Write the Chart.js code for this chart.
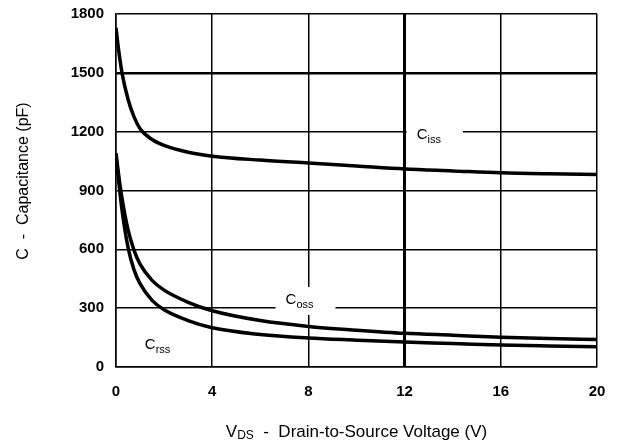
<!DOCTYPE html>
<html>
<head>
<meta charset="utf-8">
<script src="https://cdn.jsdelivr.net/npm/chart.js@4/dist/chart.umd.min.js"></script>
<style>
  html, body { margin: 0; padding: 0; background: #fff; }
  canvas { display: block; }
</style>
</head>
<body>
<canvas id="chart" width="622" height="443"></canvas>
<script>
// ===== 数据=====
const vds  = [0, 0.1, 0.25, 0.5, 0.75, 1, 1.5, 2, 3, 4, 6, 8, 10, 12, 14, 16, 18, 20];
const ciss = [1730, 1625, 1500, 1365, 1275, 1215, 1160, 1130, 1095, 1075, 1055, 1040, 1025, 1010, 1000, 990, 985, 982];
const coss = [1090, 990, 860, 700, 595, 525, 442, 392, 330, 287, 237, 207, 188, 172, 162, 152, 145, 140];
const crss = [1080, 960, 800, 610, 495, 425, 340, 292, 237, 200, 166, 148, 137, 127, 120, 112, 107, 103];
const xTicks = [0, 4, 8, 12, 16, 20];
const yTicks = [0, 300, 600, 900, 1200, 1500, 1800];

// 曲线标签：主字、下标、位置（数据坐标）
const curveLabels = [
  { main: 'C', sub: 'iss', x: 12.5, y: 1183, box: true },
  { main: 'C', sub: 'oss', x: 7.05, y: 342, box: true },
  { main: 'C', sub: 'rss', x: 1.2,  y: 112, box: false }
];

const FONT = '"Liberation Sans", Arial, sans-serif';

function pts(ys) {
  return vds.map((x, i) => ({ x: x, y: ys[i] }));
}

// ===== 画曲线标签和坐标轴标题 =====
const labelPlugin = {
  id: 'labels',
  afterDatasetsDraw(chart) {
    const c = chart.ctx;
    const xs = chart.scales.x, ys = chart.scales.y;
    c.save();
    c.textBaseline = 'middle';
    c.textAlign = 'left';
    for (const l of curveLabels) {
      const px = xs.getPixelForValue(l.x);
      const py = ys.getPixelForValue(l.y);
      c.font = '15px ' + FONT;
      const w1 = c.measureText(l.main).width;
      c.font = '11px ' + FONT;
      const w2 = c.measureText(l.sub).width;
      if (l.box) {
        c.fillStyle = '#fff';
        c.fillRect(px - 10, py - 13, w1 + w2 + 32, 28);
      }
      c.fillStyle = '#000';
      c.font = '15px ' + FONT;
      c.fillText(l.main, px, py);
      c.font = '11px ' + FONT;
      c.fillText(l.sub, px + w1, py + 5);
    }
    c.restore();
  },
  afterDraw(chart) {
    const c = chart.ctx;
    const a = chart.chartArea;
    c.save();
    c.fillStyle = '#000';
    c.textBaseline = 'middle';
    // x 轴标题
    c.font = '17px ' + FONT;
    const t1 = 'V', t3 = '  -  Drain-to-Source Voltage (V)';
    const w1 = c.measureText(t1).width;
    const w3 = c.measureText(t3).width;
    c.font = '12px ' + FONT;
    const w2 = c.measureText('DS').width;
    let x0 = (a.left + a.right) / 2 - (w1 + w2 + w3) / 2;
    const yT = 432;
    c.textAlign = 'left';
    c.font = '17px ' + FONT;
    c.fillText(t1, x0, yT);
    c.font = '12px ' + FONT;
    c.fillText('DS', x0 + w1, yT + 4);
    c.font = '17px ' + FONT;
    c.fillText(t3, x0 + w1 + w2, yT);
    // y 轴标题
    c.translate(24, 181);
    c.rotate(-Math.PI / 2);
    c.textAlign = 'center';
    c.font = '16px ' + FONT;
    c.fillText('C  -  Capacitance (pF)', 0, 0);
    c.restore();
  }
};

const lineStyle = {
  borderColor: '#000',
  borderWidth: 3.5,
  pointRadius: 0,
  fill: false,
  cubicInterpolationMode: 'monotone'
};

new Chart(document.getElementById('chart'), {
  type: 'line',
  data: {
    datasets: [
      Object.assign({ label: 'Ciss', data: pts(ciss) }, lineStyle),
      Object.assign({ label: 'Coss', data: pts(coss) }, lineStyle),
      Object.assign({ label: 'Crss', data: pts(crss) }, lineStyle)
    ]
  },
  options: {
    responsive: false,
    animation: false,
    devicePixelRatio: 1,
    layout: { padding: { left: 0, right: 25, top: 14, bottom: 0 } },
    plugins: { legend: { display: false }, tooltip: { enabled: false } },
    scales: {
      x: {
        type: 'linear',
        min: 0, max: 20,
        afterBuildTicks: (s) => { s.ticks = xTicks.map(v => ({ value: v })); },
        afterFit: (s) => { s.height = 76; s.paddingLeft = 0; s.paddingRight = 0; },
        grid: {
          color: '#000',
          lineWidth: (ctx) => (ctx.tick && ctx.tick.value === 12 ? 3 : 1.5),
          drawTicks: false
        },
        border: { display: true, color: '#000', width: 1.5 },
        ticks: {
          color: '#000', padding: 16, maxRotation: 0,
          callback: (v) => String(v),
          font: { family: FONT, size: 15, weight: 'bold' }
        }
      },
      y: {
        type: 'linear',
        min: 0, max: 1800,
        afterBuildTicks: (s) => { s.ticks = yTicks.map(v => ({ value: v })); },
        afterFit: (s) => { s.width = 116; s.paddingTop = 0; s.paddingBottom = 0; },
        grid: {
          color: '#000',
          lineWidth: (ctx) => (ctx.tick && ctx.tick.value === 1500 ? 2.5 : 1.5),
          drawTicks: false
        },
        border: { display: true, color: '#000', width: 1.5 },
        ticks: {
          color: '#000', padding: 12,
          callback: (v) => String(v),
          font: { family: FONT, size: 15, weight: 'bold' }
        }
      }
    }
  },
  plugins: [labelPlugin]
});
</script>
</body>
</html>
